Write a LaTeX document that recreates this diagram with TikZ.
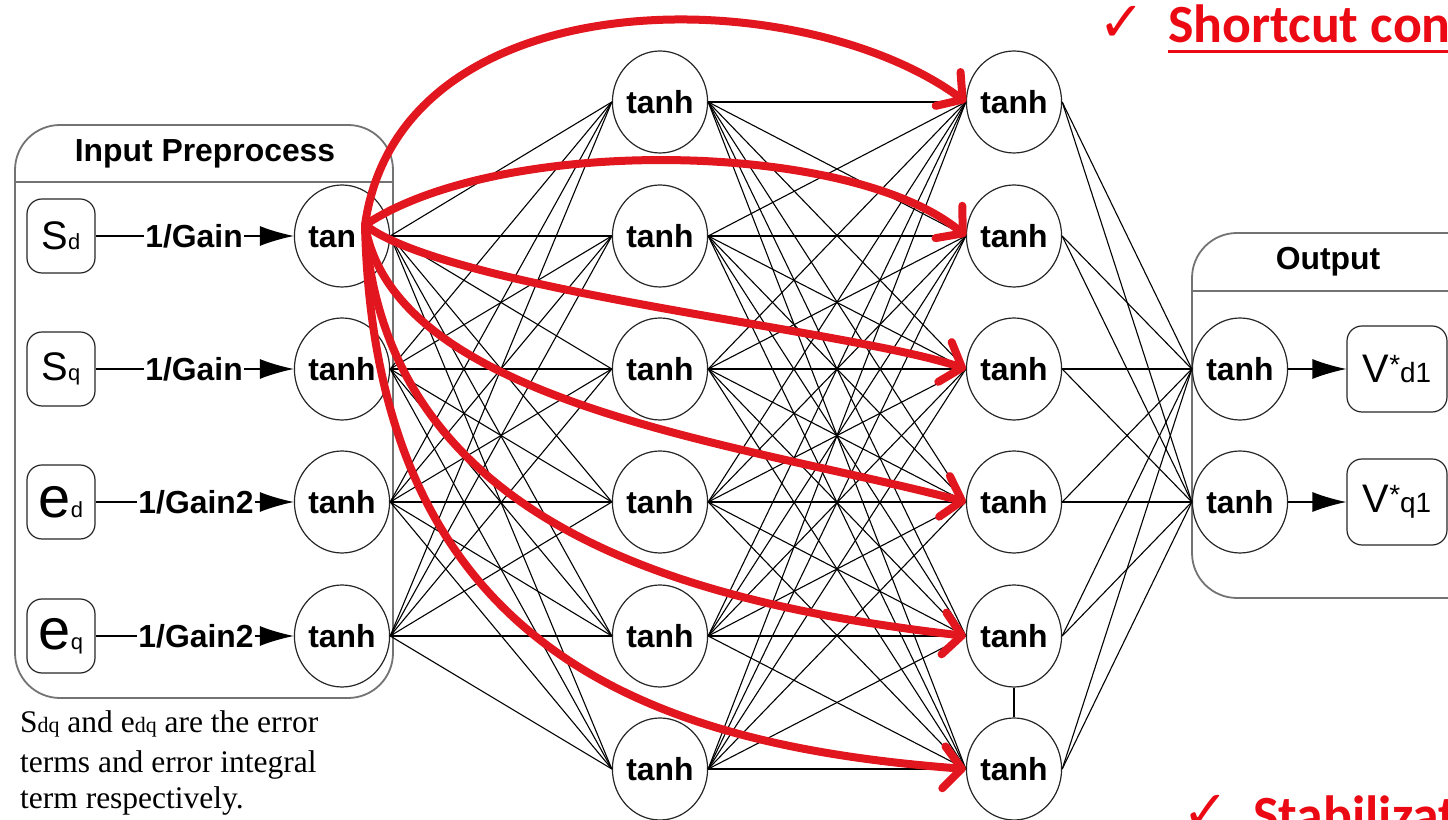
\documentclass[tikz,border=0pt]{standalone}
\usepackage{fontspec}
\setmainfont{Liberation Sans}
\newfontfamily\captionserif{Liberation Serif}
\newfontfamily\notefont{Carlito}
\newfontfamily\symbolfont{DejaVu Sans}
\usetikzlibrary{arrows.meta,shapes.geometric}
\definecolor{shortcutred}{RGB}{226,22,30}
\definecolor{notered}{RGB}{235,10,20}
\newcommand{\fsz}[1]{\fontsize{#1}{#1}\selectfont}
\tikzset{
  neuron/.style={ellipse,draw=black!85,line width=1.2bp,minimum width=95bp,minimum height=102bp,inner sep=0pt,font=\fsz{32}\bfseries},
  inbox/.style={draw=black!85,line width=1.2bp,rounded corners=15bp,minimum width=68bp,minimum height=74bp,inner sep=0pt},
  outbox/.style={draw=black!85,line width=1.2bp,rounded corners=15bp,minimum width=100bp,minimum height=86bp,inner sep=0pt},
  gainlabel/.style={inner sep=1bp,font=\fsz{32}\bfseries},
  frametitle/.style={inner sep=0pt,font=\fsz{32}\bfseries},
  frame/.style={draw=black!55,line width=1.8bp,rounded corners=45bp},
  synapse/.style={black,line width=1.1bp},
  feed/.style={black,line width=1.2bp},
  shortcut/.style={draw=shortcutred,line width=8bp,line cap=round,-{Straight Barb[length=18bp,width=42bp,round]}},
  captionline/.style={anchor=base west,inner sep=0pt,font=\captionserif\fsz{31.6}},
  note/.style={anchor=base west,inner sep=0pt,text=notered,font=\notefont\bfseries\fsz{54}},
  notecheck/.style={anchor=base west,inner sep=0pt,text=notered,font=\symbolfont\fsz{56}},
}
\begin{document}
\begin{tikzpicture}[>={Latex[length=34bp,width=20bp]},line join=bevel,]
\useasboundingbox (0bp,0bp) rectangle (1448bp,820bp);
\clip (0bp,0bp) rectangle (1448bp,820bp);
%%
\draw[frame] (15bp,122bp) rectangle (393bp,695bp);
\draw[frame] (15bp,638bp) -- (393bp,638bp);
\node (in_title) at (205bp,666bp) [frametitle] {Input Preprocess};
\draw[frame] (1192bp,222bp) rectangle (1500bp,587bp);
\draw[frame] (1192bp,529bp) -- (1500bp,529bp);
\node (out_title) at (1328bp,558bp) [frametitle] {Output};
%
\node (sd) at (61bp,584bp) [inbox] {{\fsz{40}S}{\fsz{22}d}};
\node (sq) at (61bp,451bp) [inbox] {{\fsz{40}S}{\fsz{22}q}};
\node (ed) at (61bp,318bp) [inbox] {{\fsz{58}e}{\fsz{22}d}};
\node (eq) at (61bp,184bp) [inbox] {{\fsz{58}e}{\fsz{22}q}};
\node (g_1) at (194bp,584bp) [gainlabel] {1/Gain};
\node (g_2) at (194bp,451bp) [gainlabel] {1/Gain};
\node (g_3) at (196bp,318bp) [gainlabel] {1/Gain2};
\node (g_4) at (196bp,184bp) [gainlabel] {1/Gain2};
\node (in_1) at (342bp,584bp) [neuron] {tan\phantom{h}};
\node (in_2) at (342bp,451bp) [neuron] {tanh};
\node (in_3) at (342bp,318bp) [neuron] {tanh};
\node (in_4) at (342bp,184bp) [neuron] {tanh};
%
\node (hid1_1) at (660bp,718bp) [neuron] {tanh};
\node (hid1_2) at (660bp,584bp) [neuron] {tanh};
\node (hid1_3) at (660bp,451bp) [neuron] {tanh};
\node (hid1_4) at (660bp,318bp) [neuron] {tanh};
\node (hid1_5) at (660bp,184bp) [neuron] {tanh};
\node (hid1_6) at (660bp,51bp) [neuron] {tanh};
\node (hid2_1) at (1014bp,718bp) [neuron] {tanh};
\node (hid2_2) at (1014bp,584bp) [neuron] {tanh};
\node (hid2_3) at (1014bp,451bp) [neuron] {tanh};
\node (hid2_4) at (1014bp,318bp) [neuron] {tanh};
\node (hid2_5) at (1014bp,184bp) [neuron] {tanh};
\node (hid2_6) at (1014bp,51bp) [neuron] {tanh};
%
\node (out_1) at (1240bp,451bp) [neuron] {tanh};
\node (out_2) at (1240bp,318bp) [neuron] {tanh};
\node (vd) at (1397bp,451bp) [outbox] {{\fsz{40}V}\raisebox{8bp}{\fsz{28}*}{\fsz{28}d1}};
\node (vq) at (1397bp,318bp) [outbox] {{\fsz{40}V}\raisebox{8bp}{\fsz{28}*}{\fsz{28}q1}};
%
\draw [feed] (sd.east) -- (g_1.west);
\draw [feed] (sq.east) -- (g_2.west);
\draw [feed] (ed.east) -- (g_3.west);
\draw [feed] (eq.east) -- (g_4.west);
\draw [feed,->] (g_1.east) -- (in_1.west);
\draw [feed,->] (g_2.east) -- (in_2.west);
\draw [feed,->] (g_3.east) -- (in_3.west);
\draw [feed,->] (g_4.east) -- (in_4.west);
\draw [feed,->] (out_1.east) -- (vd.west);
\draw [feed,->] (out_2.east) -- (vq.west);
%
\foreach \i in {1,...,4}
  \foreach \j in {1,...,6}
    \draw [synapse] (in_\i.east) -- (hid1_\j.west);
\foreach \i in {1,...,6}
  \foreach \j in {1,...,6}
    \draw [synapse] (hid1_\i.east) -- (hid2_\j.west);
\foreach \i in {1,...,6}
  \foreach \j in {1,2}
    \draw [synapse] (hid2_\i.east) -- (out_\j.west);
\draw [synapse] (hid2_5) -- (hid2_6);
%
\coordinate (sc_from) at (365bp,595bp);
\draw [shortcut] (sc_from) ..controls (400bp,845bp) and (800bp,840bp) .. (hid2_1.west);
\draw [shortcut] (sc_from) ..controls (500bp,685bp) and (850bp,680bp) .. (hid2_2.west);
\draw [shortcut] (sc_from) ..controls (450bp,530bp) and (850bp,490bp) .. (hid2_3.west);
\draw [shortcut] (sc_from) ..controls (395bp,415bp) and (750bp,375bp) .. (hid2_4.west);
\draw [shortcut] (sc_from) ..controls (385bp,290bp) and (700bp,215bp) .. (hid2_5.west);
\draw [shortcut] (sc_from) ..controls (375bp,170bp) and (650bp,75bp) .. (hid2_6.west);
%
\node (cap_1) at (20bp,87bp) [captionline] {S{\fsz{22}dq} and e{\fsz{22}dq} are the error};
\node (cap_2) at (20bp,47bp) [captionline] {terms and error integral};
\node (cap_3) at (20bp,12bp) [captionline] {term respectively.};
%
\node (check_1) at (1098bp,778bp) [notecheck] {✓};
\node (note_1) at (1168bp,777bp) [note] {Shortcut connection};
\draw [notered,line width=3bp] ([yshift=-9bp]note_1.base west) -- ([yshift=-9bp]note_1.base east);
\node (check_2) at (1182bp,-10bp) [notecheck] {✓};
\node (note_2) at (1253bp,-13bp) [note] {Stabilization};
%
\end{tikzpicture}
\end{document}
